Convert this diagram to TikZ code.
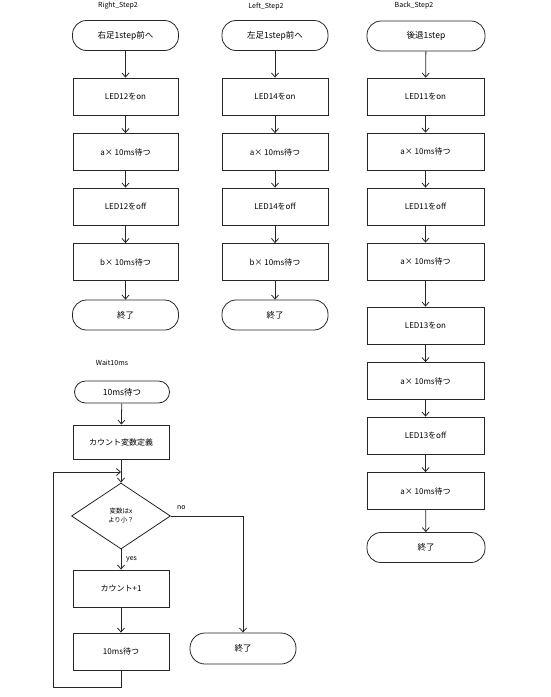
\documentclass[tikz,border=0pt]{standalone}
\usepackage{fontspec}
\setmainfont{Noto Sans CJK JP}
\usetikzlibrary{arrows.meta,shapes.geometric}
\begin{document}
\begin{tikzpicture}[x=1pt,y=-1pt,
  ln/.style={line width=0.8pt,draw=black!85},
  box/.style={ln,draw,rectangle,minimum width=#1,minimum height=37pt,inner sep=0pt,font=\fontsize{8}{9}\selectfont},
  term/.style={ln,draw,rectangle,rounded corners=14pt,minimum width=#1,minimum height=30pt,inner sep=0pt,font=\fontsize{8.5}{9}\selectfont},
  ttl/.style={font=\fontsize{7}{8}\selectfont,inner sep=0pt},
  lbl/.style={font=\fontsize{7}{8}\selectfont,inner sep=0pt,anchor=west},
  arr/.style={ln,-{Straight Barb[length=4pt,width=7pt]}}
]
\useasboundingbox (0,0) rectangle (550,697);
% ---------- Right_Step2
\node[ttl] (r0) at (118,6) {Right\_Step2};
\node[term=106pt] (r1) at (125.5,35.5) {右足1step前へ};
\node[box=105pt] (r2) at (125.5,96.5) {LED12をon};
\node[box=105pt] (r3) at (125.5,152) {a× 10ms待つ};
\node[box=105pt] (r4) at (125.5,206.5) {LED12をoff};
\node[box=105pt] (r5) at (125.5,262) {b× 10ms待つ};
\node[term=106pt] (r6) at (125.5,315) {終了};
\foreach \a/\b in {r1/r2,r2/r3,r3/r4,r4/r5,r5/r6} \draw[arr] (\a) -- (\b);
% ---------- Left_Step2
\node[ttl] (l0) at (266,6) {Left\_Step2};
\node[term=106pt] (l1) at (275,35.5) {左足1step前へ};
\node[box=106pt] (l2) at (275,96.5) {LED14をon};
\node[box=106pt] (l3) at (275,152) {a× 10ms待つ};
\node[box=106pt] (l4) at (275,206.5) {LED14をoff};
\node[box=106pt] (l5) at (275,262) {b× 10ms待つ};
\node[term=106pt] (l6) at (275,315) {終了};
\foreach \a/\b in {l1/l2,l2/l3,l3/l4,l4/l5,l5/l6} \draw[arr] (\a) -- (\b);
% ---------- Back_Step2
\node[ttl] (k0) at (414,6) {Back\_Step2};
\node[term=118pt] (k1) at (426,36) {後退1step};
\node[box=117pt] (k2) at (425.5,96.5) {LED11をon};
\node[box=117pt] (k3) at (425.5,151.5) {a× 10ms待つ};
\node[box=117pt] (k4) at (425.5,206.5) {LED11をoff};
\node[box=117pt] (k5) at (425.5,261.5) {a× 10ms待つ};
\node[box=117pt] (k6) at (425.5,325.5) {LED13をon};
\node[box=117pt] (k7) at (425.5,381) {a× 10ms待つ};
\node[box=117pt] (k8) at (425.5,435.5) {LED13をoff};
\node[box=117pt] (k9) at (425.5,491) {a× 10ms待つ};
\node[term=118pt] (k10) at (426,547.5) {終了};
\foreach \a/\b in {k1/k2,k2/k3,k3/k4,k4/k5,k5/k6,k6/k7,k7/k8,k8/k9,k9/k10} \draw[arr] (\a) -- (\b);
% ---------- Wait10ms
\node[ttl] (w0) at (112,363) {Wait10ms};
\node[term=95pt,minimum height=22pt,rounded corners=11pt] (w1) at (122,392) {10ms待つ};
\node[box=96pt,minimum height=34pt] (w2) at (121,442) {カウント変数定義};
\node[ln,draw,diamond,minimum width=99pt,minimum height=66pt,inner sep=0pt,align=center,font=\fontsize{6.5}{9}\selectfont] (w3) at (121,516) {変数はx\\より小？};
\node[box=96pt] (w4) at (121,588.5) {カウント+1};
\node[box=96pt] (w5) at (121,651.5) {10ms待つ};
\node[term=106pt,minimum height=31pt,rounded corners=15pt] (w6) at (243,648.5) {終了};
\node[lbl] (wyes) at (126,559) {yes};
\node[lbl] (wno) at (177,508) {no};
\coordinate (lbl1) at (53,687);
\coordinate (ltl) at (53,472);
\coordinate (lin) at (121,472);
\draw[arr] (w1) -- (w2);
\draw[arr] (w2) -- (w3);
\draw[arr] (w3) -- (w4);
\draw[arr] (w4) -- (w5);
\draw[arr] (w3.east) -| (w6.north);
\draw[arr] (w5.south) |- (lbl1) -- (ltl) -- (lin);
\end{tikzpicture}
\end{document}
